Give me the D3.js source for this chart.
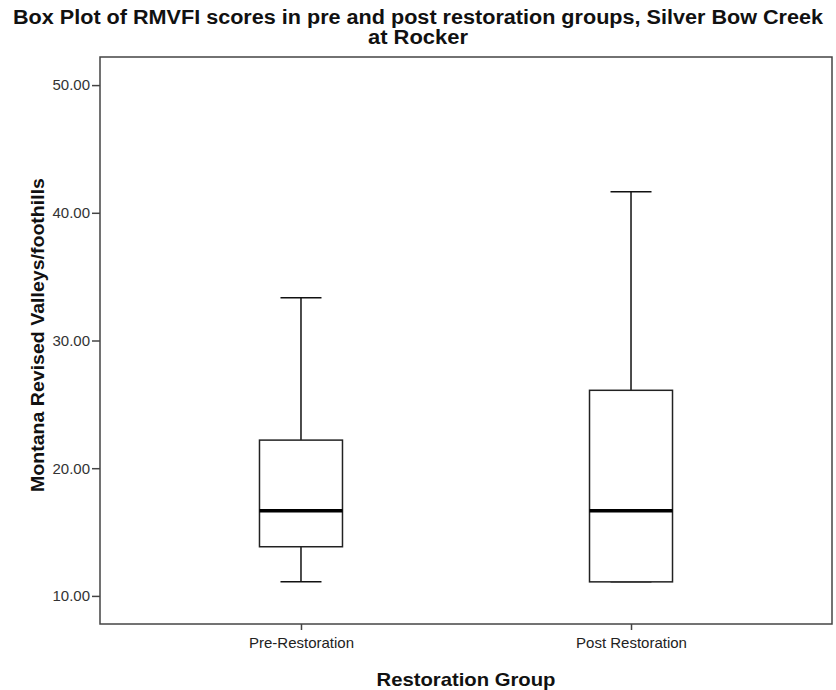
<!DOCTYPE html>
<html><head><meta charset="utf-8">
<script src="https://cdn.jsdelivr.net/npm/d3@7"></script>
<style>body{margin:0;background:#fff;} svg{display:block;}</style>
</head><body>
<svg id="chart" width="836" height="690"></svg>
<script>
const categories = ["Pre-Restoration", "Post Restoration"];
const whiskerLow = [11.1, 11.1];
const q1 = [13.85, 11.1];
const median = [16.67, 16.67];
const q3 = [22.2, 26.1];
const whiskerHigh = [33.35, 41.65];
const yTicks = [10, 20, 30, 40, 50];

const svg = d3.select("#chart");
const font = "Arial, 'Liberation Sans', sans-serif";
const m = {left: 100, top: 57, right: 832, bottom: 624};

const x = d3.scalePoint().domain(categories).range([m.left, m.right]).padding(0.609);
const y = d3.scaleLinear().domain([7.8, 52.2]).range([m.bottom, m.top]);

// frame
svg.append("rect").attr("x", m.left).attr("y", m.top)
  .attr("width", m.right - m.left).attr("height", m.bottom - m.top)
  .attr("fill", "none").attr("stroke", "#444").attr("stroke-width", 1.5);

// y axis
const ya = svg.append("g").attr("transform", `translate(${m.left},0)`)
  .call(d3.axisLeft(y).tickValues(yTicks).tickFormat(d3.format(".2f")).tickSize(8).tickPadding(2));
ya.select(".domain").remove();
ya.selectAll("line").attr("stroke", "#444").attr("stroke-width", 1.5);
ya.selectAll("text").attr("font-family", font).attr("font-size", 15).attr("fill", "#333");

// x axis
const xa = svg.append("g").attr("transform", `translate(0,${m.bottom})`)
  .call(d3.axisBottom(x).tickSize(6).tickPadding(0));
xa.select(".domain").remove();
xa.selectAll("line").attr("stroke", "#444").attr("stroke-width", 1.5);
xa.selectAll("text").attr("font-family", font).attr("font-size", 15).attr("fill", "#222")
  .attr("dy", null).attr("y", 24);

const boxW = 83, capW = 41;
const g = svg.append("g");
categories.forEach((c, i) => {
  const cx = x(c);
  g.append("line").attr("x1", cx).attr("x2", cx).attr("y1", y(whiskerHigh[i])).attr("y2", y(q3[i]))
    .attr("stroke", "#111").attr("stroke-width", 1.5);
  g.append("line").attr("x1", cx).attr("x2", cx).attr("y1", y(q1[i])).attr("y2", y(whiskerLow[i]))
    .attr("stroke", "#111").attr("stroke-width", 1.5);
  g.append("line").attr("x1", cx - capW/2).attr("x2", cx + capW/2).attr("y1", y(whiskerHigh[i])).attr("y2", y(whiskerHigh[i]))
    .attr("stroke", "#111").attr("stroke-width", 1.5);
  g.append("line").attr("x1", cx - capW/2).attr("x2", cx + capW/2).attr("y1", y(whiskerLow[i])).attr("y2", y(whiskerLow[i]))
    .attr("stroke", "#111").attr("stroke-width", 1.5);
  g.append("rect").attr("x", cx - boxW/2).attr("y", y(q3[i])).attr("width", boxW).attr("height", y(q1[i]) - y(q3[i]))
    .attr("fill", "#fff").attr("stroke", "#222").attr("stroke-width", 1.5);
  g.append("line").attr("x1", cx - boxW/2).attr("x2", cx + boxW/2).attr("y1", y(median[i])).attr("y2", y(median[i]))
    .attr("stroke", "#000").attr("stroke-width", 3.5);
});

// titles
svg.append("text").attr("x", 418).attr("y", 24).attr("text-anchor", "middle")
  .attr("font-family", font).attr("font-weight", "bold").attr("font-size", 20).attr("fill", "#111")
  .attr("textLength", 810).attr("lengthAdjust", "spacingAndGlyphs")
  .text("Box Plot of RMVFI scores in pre and post restoration groups, Silver Bow Creek");
svg.append("text").attr("x", 418).attr("y", 44).attr("text-anchor", "middle")
  .attr("font-family", font).attr("font-weight", "bold").attr("font-size", 20).attr("fill", "#111")
  .attr("textLength", 100).attr("lengthAdjust", "spacingAndGlyphs")
  .text("at Rocker");
svg.append("text").attr("x", 466).attr("y", 686).attr("text-anchor", "middle")
  .attr("font-family", font).attr("font-weight", "bold").attr("font-size", 19).attr("fill", "#111")
  .attr("textLength", 179).attr("lengthAdjust", "spacingAndGlyphs")
  .text("Restoration Group");
svg.append("text").attr("transform", "translate(44,335) rotate(-90)").attr("text-anchor", "middle")
  .attr("font-family", font).attr("font-weight", "bold").attr("font-size", 19).attr("fill", "#111")
  .attr("textLength", 314).attr("lengthAdjust", "spacingAndGlyphs")
  .text("Montana Revised Valleys/foothills");
</script>
</body></html>
